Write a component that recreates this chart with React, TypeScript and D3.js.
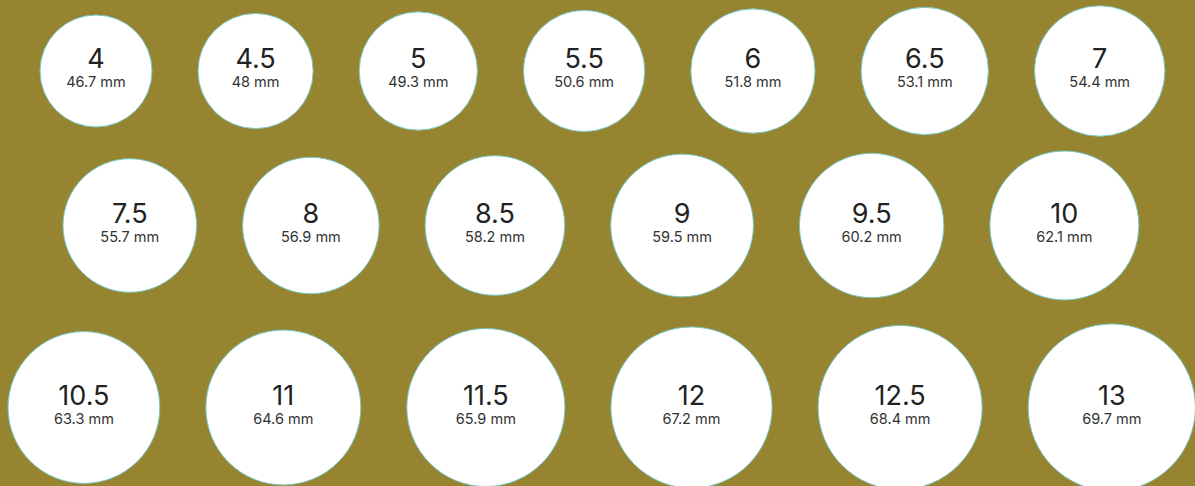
import React, { useRef, useEffect } from 'react';
import * as d3 from 'd3';

// ring sizes (US) and inner circumference in mm, one array per row
const row1Sizes: string[] = ['4', '4.5', '5', '5.5', '6', '6.5', '7'];
const row1Mm: number[] = [46.7, 48, 49.3, 50.6, 51.8, 53.1, 54.4];
const row2Sizes: string[] = ['7.5', '8', '8.5', '9', '9.5', '10'];
const row2Mm: number[] = [55.7, 56.9, 58.2, 59.5, 60.2, 62.1];
const row3Sizes: string[] = ['10.5', '11', '11.5', '12', '12.5', '13'];
const row3Mm: number[] = [63.3, 64.6, 65.9, 67.2, 68.4, 69.7];

const width = 1195;
const height = 486;
const gap = 46;
const bg = '#978431';

// layout of each row: left edge of first circle, vertical center
const rowLayout = [
    { sizes: row1Sizes, mm: row1Mm, x0: 40, cy: 71 },
    { sizes: row2Sizes, mm: row2Mm, x0: 63, cy: 225.5 },
    { sizes: row3Sizes, mm: row3Mm, x0: 8, cy: 407.5 },
];

interface ICircle {
    size: string;
    mm: number;
    cx: number;
    cy: number;
    r: number;
}

function App() {
    const d3Container = useRef<SVGSVGElement>(null);

    useEffect(() => {
        document.body.style.margin = '0';
        if (!d3Container.current) return;

        const rScale = d3.scaleLinear().domain([0, 69.7]).range([0, 83.6]);

        const circles: ICircle[] = [];
        rowLayout.forEach(row => {
            let left = row.x0;
            row.mm.forEach((mm, i) => {
                const r = rScale(mm);
                circles.push({ size: row.sizes[i], mm, cx: left + r, cy: row.cy, r });
                left += 2 * r + gap;
            });
        });

        const svg = d3.select(d3Container.current);
        svg.selectAll('*').remove();

        svg.append('rect')
            .attr('width', width)
            .attr('height', height)
            .attr('fill', bg);

        const g = svg.append('g')
            .selectAll('g')
            .data(circles)
            .join('g')
                .attr('transform', d => `translate(${d.cx},${d.cy})`);

        g.append('circle')
            .attr('r', d => d.r)
            .attr('fill', '#ffffff')
            .attr('stroke', '#74c7c2')
            .attr('stroke-width', 1);

        g.append('text')
            .attr('text-anchor', 'middle')
            .attr('y', -3)
            .attr('font-family', 'Inter, sans-serif')
            .attr('font-size', 27)
            .attr('fill', '#222222')
            .text(d => d.size);

        g.append('text')
            .attr('text-anchor', 'middle')
            .attr('y', 16)
            .attr('font-family', 'Inter, sans-serif')
            .attr('font-size', 14.5)
            .attr('fill', '#333333')
            .text(d => `${d.mm} mm`);
    }, []);

    return (
        <svg
            width={width}
            height={height}
            ref={d3Container}
            style={{ display: 'block' }}
        />
    );
}

export default App;
